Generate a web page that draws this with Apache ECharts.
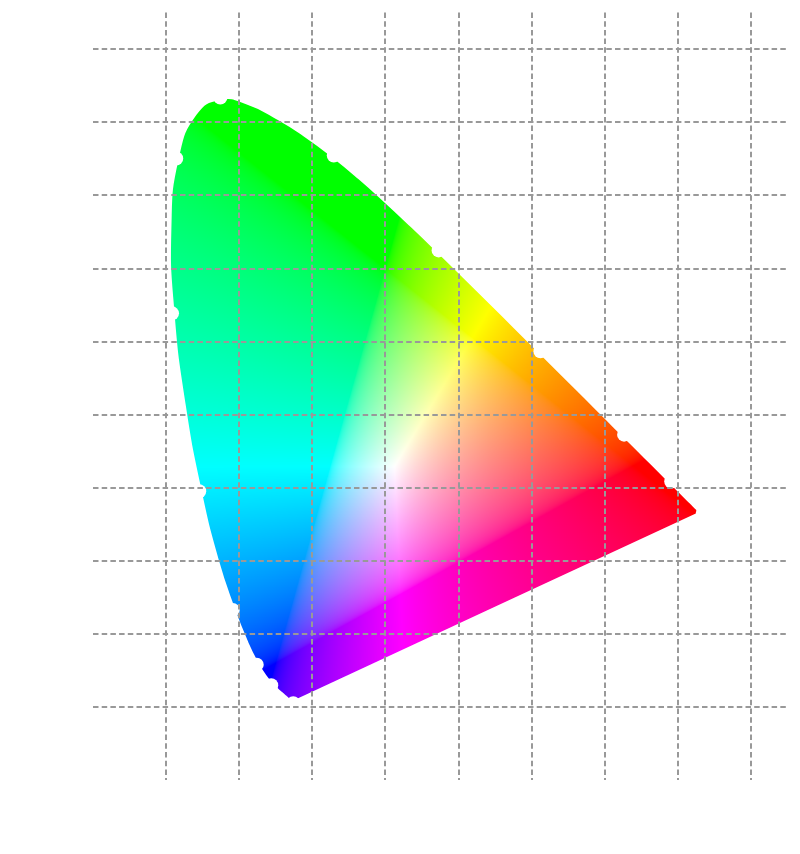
<!DOCTYPE html>
<html>
<head>
<meta charset="utf-8">
<style>
  html, body { margin: 0; background: #fff; }
  #main { width: 800px; height: 854px; }
</style>
<script src="https://cdn.jsdelivr.net/npm/echarts@6/dist/echarts.min.js"></script>
</head>
<body>
<div id="main"></div>
<script>
// CIE 1931 spectral locus, 380-700 nm every 5 nm
var wavelengths = [380, 385, 390, 395, 400, 405, 410, 415, 420, 425, 430, 435, 440, 445, 450, 455, 460, 465, 470, 475, 480, 485, 490, 495, 500, 505, 510, 515, 520, 525, 530, 535, 540, 545, 550, 555, 560, 565, 570, 575, 580, 585, 590, 595, 600, 605, 610, 615, 620, 625, 630, 635, 640, 645, 650, 655, 660, 665, 670, 675, 680, 685, 690, 695, 700];
var locusX = [0.1741, 0.1740, 0.1738, 0.1736, 0.1733, 0.1730, 0.1726, 0.1721, 0.1714, 0.1703, 0.1689, 0.1669, 0.1644, 0.1611, 0.1566, 0.1510, 0.1440, 0.1355, 0.1241, 0.1096, 0.0913, 0.0687, 0.0454, 0.0235, 0.0082, 0.0039, 0.0139, 0.0389, 0.0743, 0.1142, 0.1547, 0.1929, 0.2296, 0.2658, 0.3016, 0.3373, 0.3731, 0.4087, 0.4441, 0.4788, 0.5125, 0.5448, 0.5752, 0.6029, 0.6270, 0.6482, 0.6658, 0.6801, 0.6915, 0.7006, 0.7079, 0.7140, 0.7190, 0.7230, 0.7260, 0.7283, 0.7300, 0.7311, 0.7320, 0.7327, 0.7334, 0.7340, 0.7344, 0.7346, 0.7347];
var locusY = [0.0050, 0.0050, 0.0049, 0.0049, 0.0048, 0.0048, 0.0048, 0.0048, 0.0051, 0.0058, 0.0069, 0.0086, 0.0109, 0.0138, 0.0177, 0.0227, 0.0297, 0.0399, 0.0578, 0.0868, 0.1327, 0.2007, 0.2950, 0.4127, 0.5384, 0.6548, 0.7502, 0.8120, 0.8338, 0.8262, 0.8059, 0.7816, 0.7543, 0.7243, 0.6923, 0.6589, 0.6245, 0.5896, 0.5547, 0.5202, 0.4866, 0.4544, 0.4242, 0.3965, 0.3725, 0.3514, 0.3340, 0.3197, 0.3083, 0.2993, 0.2920, 0.2859, 0.2809, 0.2770, 0.2740, 0.2717, 0.2700, 0.2689, 0.2680, 0.2673, 0.2666, 0.2660, 0.2656, 0.2654, 0.2653];
// wavelengths that carry a white marker on the curve
var markedNm = [380, 460, 470, 480, 490, 500, 510, 520, 540, 560, 580, 600, 620, 700];

var fieldMaxX = 0.8;
var fieldMaxY = 0.9;
var fieldSize = 900;

function gamma(c) {
  return c <= 0.0031308 ? 12.92 * c : 1.055 * Math.pow(c, 1 / 2.4) - 0.055;
}

// xy -> linear sRGB, negatives clipped, scaled to max 1
function buildColourField() {
  var canvas = document.createElement("canvas");
  canvas.width = fieldSize;
  canvas.height = fieldSize;
  var ctx = canvas.getContext("2d");
  var img = ctx.createImageData(fieldSize, fieldSize);
  for (var j = 0; j < fieldSize; j++) {
    var y = fieldMaxY * (1 - (j + 0.5) / fieldSize);
    for (var i = 0; i < fieldSize; i++) {
      var x = fieldMaxX * (i + 0.5) / fieldSize;
      var X = x / y;
      var Z = (1 - x - y) / y;
      var r = Math.max(0, 3.2406 * X - 1.5372 - 0.4986 * Z);
      var g = Math.max(0, -0.9689 * X + 1.8758 + 0.0415 * Z);
      var b = Math.max(0, 0.0557 * X - 0.204 + 1.057 * Z);
      var m = Math.max(r, g, b);
      var k = (j * fieldSize + i) * 4;
      img.data[k] = 255 * gamma(r / m);
      img.data[k + 1] = 255 * gamma(g / m);
      img.data[k + 2] = 255 * gamma(b / m);
      img.data[k + 3] = 255;
    }
  }
  ctx.putImageData(img, 0, 0);
  return canvas;
}

var colourField = buildColourField();

function renderLocus(params, api) {
  if (params.dataIndex !== 0) {
    return null;
  }
  var points = locusX.map(function (x, i) {
    return api.coord([x, locusY[i]]);
  });
  var topLeft = api.coord([0, fieldMaxY]);
  var bottomRight = api.coord([fieldMaxX, 0]);
  return {
    type: "group",
    children: [
      {
        type: "image",
        style: {
          image: colourField,
          x: topLeft[0],
          y: topLeft[1],
          width: bottomRight[0] - topLeft[0],
          height: bottomRight[1] - topLeft[1],
        },
        clipPath: {
          type: "polygon",
          shape: { points: points, smooth: 0.5 },
        },
      },
      {
        // white outline trims the edge of the fill a little
        type: "polygon",
        shape: { points: points, smooth: 0.5 },
        style: { fill: "none", stroke: "#fff", lineWidth: 5, lineJoin: "round" },
      },
    ],
  };
}

var splitLine = {
  show: true,
  showMinLine: false,
  showMaxLine: false,
  lineStyle: { color: "#999", width: 2, type: [5.5, 3.2] },
};

var chart = echarts.init(document.getElementById("main"), null, { renderer: "canvas" });
chart.setOption({
  animation: false,
  backgroundColor: "#fff",
  grid: { left: 93, right: 13, top: 12.5, bottom: 74 },
  xAxis: {
    type: "value",
    min: -0.1,
    max: 0.85,
    interval: 0.1,
    z: 10,
    axisLine: { show: false },
    axisTick: { show: false },
    axisLabel: { show: false },
    splitLine: splitLine,
  },
  yAxis: {
    type: "value",
    min: -0.1,
    max: 0.95,
    interval: 0.1,
    z: 10,
    axisLine: { show: false },
    axisTick: { show: false },
    axisLabel: { show: false },
    splitLine: splitLine,
  },
  series: [
    {
      type: "custom",
      renderItem: renderLocus,
      clip: false,
      silent: true,
      data: locusX.map(function (x, i) {
        return [x, locusY[i]];
      }),
      z: 2,
    },
    {
      type: "scatter",
      symbol: "circle",
      symbolSize: 14,
      silent: true,
      itemStyle: { color: "#fff", opacity: 1 },
      data: markedNm.map(function (nm) {
        var i = wavelengths.indexOf(nm);
        return [locusX[i], locusY[i]];
      }),
      z: 3,
    },
  ],
});
</script>
</body>
</html>
